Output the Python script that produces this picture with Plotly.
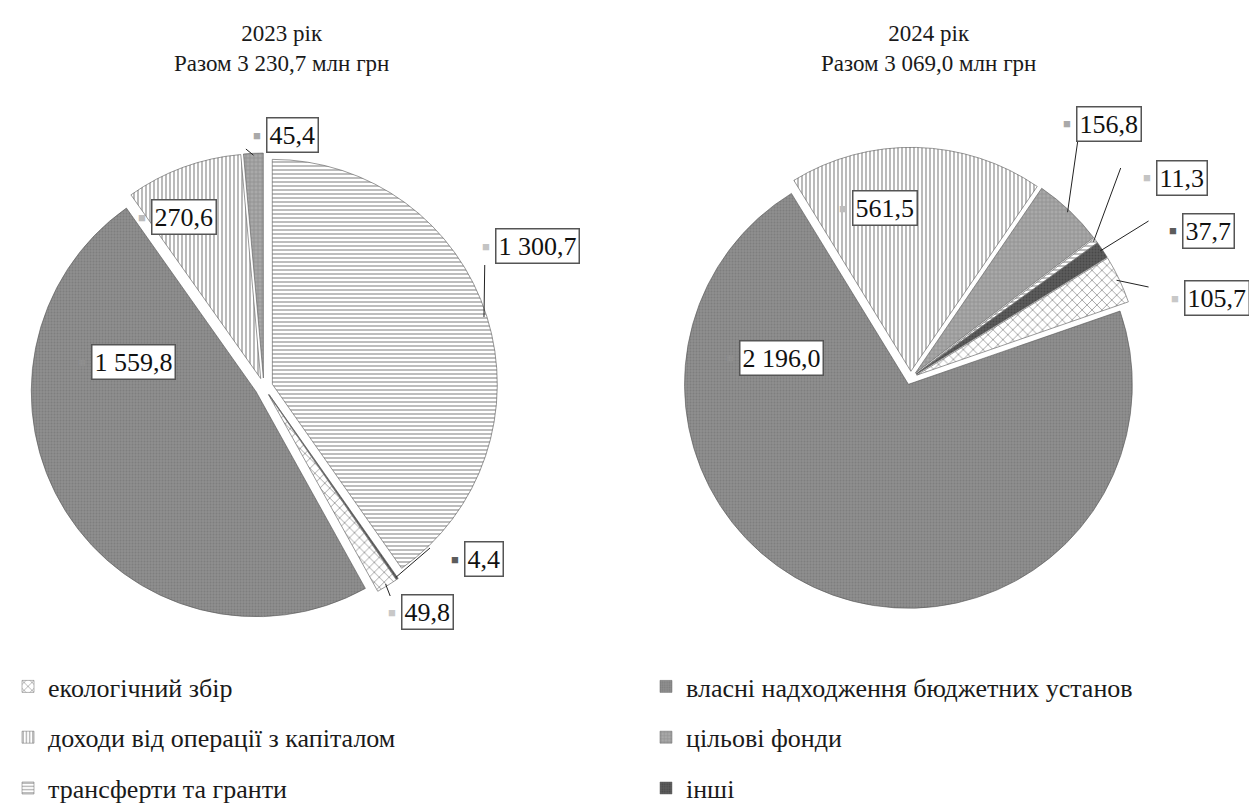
import math
import plotly.graph_objects as go

# data (млн грн)
categories = ["екологічний збір", "власні надходження бюджетних установ",
              "доходи від операції з капіталом", "цільові фонди",
              "трансферти та гранти", "інші"]
values_2023 = [49.8, 1559.8, 270.6, 45.4, 1300.7, 4.4]
values_2024 = [105.7, 2196.0, 561.5, 156.8, 11.3, 37.7]
years = ["2023", "2024"]

W, H = 1257, 805
FONT = "'Liberation Serif', 'Times New Roman', serif"

# fill styles per category: (bgcolor, pattern shape, fgcolor, size, solidity, icon colour)
styles = [
    ("white", "x", "#4a4a4a", 7, 0.25, "#c8c8c8"),
    ("#8e8e8e", ".", "#6e6e6e", 3, 0.3, "#8e8e8e"),
    ("white", "|", "#3a3a3a", 4, 0.35, "#bdbdbd"),
    ("#a9a9a9", "+", "#6a6a6a", 4, 0.3, "#a9a9a9"),
    ("white", "-", "#5a5a5a", 4, 0.4, "#c4c4c4"),
    ("#5c5c5c", ".", "#333333", 3, 0.3, "#5c5c5c"),
]

# pie geometry (pixels): centre, radius, start angle of first slice, pull
pies = [
    dict(cx=251, cy=379, r=226, rot=145.4, pull=0.04),
    dict(cx=901, cy=370, r=225, rot=58.5, pull=0.03),
]

# label boxes: left edge x, centre y, leader end point (or None)
label_boxes = [
    [(389, 604, (378, 588)), (77, 354, None), (138, 209, None),
     (253, 127, (233, 141)), (483, 238, (473, 257)), (452, 551, (418, 540))],
    [(1176, 290, (1140, 279)), (728, 350, None), (842, 200, None),
     (1067, 116, (1069, 132)), (1147, 170, (1112, 160)), (1174, 223, (1140, 213))],
]


def fmt(v):
    return f"{v:,.1f}".replace(",", " ").replace(".", ",")


def px(x):
    return x / W


def py(y):
    return 1 - y / H


fig = go.Figure()
annotations = []
shapes = []

for k, vals in enumerate([values_2023, values_2024]):
    g = pies[k]
    R = g["r"] * (1 + g["pull"])
    fig.add_trace(go.Pie(
        labels=categories, values=vals, sort=False, direction="clockwise",
        rotation=g["rot"], pull=[g["pull"]] * len(vals),
        textinfo="none", showlegend=False, hoverinfo="label+value",
        domain=dict(x=[px(g["cx"] - R), px(g["cx"] + R)],
                    y=[py(g["cy"] + R), py(g["cy"] - R)]),
        marker=dict(
            colors=[s[0] for s in styles],
            line=dict(color="#555555", width=0.6),
            pattern=dict(shape=[s[1] for s in styles],
                         fgcolor=[s[2] for s in styles],
                         bgcolor=[s[0] for s in styles],
                         size=[s[3] for s in styles],
                         solidity=[s[4] for s in styles],
                         fillmode="overlay"),
        ),
    ))

    total = sum(vals)
    annotations.append(dict(
        x=px(g["cx"] + 18), y=py(11), xref="paper", yref="paper",
        xanchor="center", yanchor="top", showarrow=False,
        text=f"{years[k]} рік<br>Разом {fmt(total)} млн грн",
        font=dict(family=FONT, size=23, color="#1a1a1a"),
    ))

    cum = 0
    for i, v in enumerate(vals):
        mid = g["rot"] + 360 * (cum + v / 2) / total
        cum += v
        bx, by, lead = label_boxes[k][i]
        annotations.append(dict(
            x=px(bx), y=py(by), xref="paper", yref="paper",
            xanchor="left", yanchor="middle", showarrow=False,
            text=fmt(v), bgcolor="white", bordercolor="#555555",
            borderwidth=1.5, borderpad=2,
            font=dict(family=FONT, size=26, color="#111111"),
        ))
        annotations.append(dict(
            x=px(bx - 3), y=py(by), xref="paper", yref="paper",
            xanchor="right", yanchor="middle", showarrow=False,
            text="■", font=dict(size=13, color=styles[i][5]),
        ))
        if lead is not None:
            a = math.radians(mid)
            rr = g["r"] * (1 + g["pull"]) - 3
            sx = g["cx"] + rr * math.sin(a)
            sy = g["cy"] - rr * math.cos(a)
            shapes.append(dict(type="line", xref="paper", yref="paper",
                               x0=px(sx), y0=py(sy), x1=px(lead[0]), y1=py(lead[1]),
                               line=dict(color="#222222", width=1)))

# legend entries: dummy bars carrying the same fills, two columns
for i, name in enumerate(categories):
    s = styles[i]
    fig.add_trace(go.Bar(
        x=[None], y=[None], name=name, legendgroup=name,
        legend="legend" if i % 2 == 0 else "legend2",
        marker=dict(color=s[0], line=dict(color="#666666", width=0.5),
                    pattern=dict(shape=s[1], fgcolor=s[2], bgcolor=s[0],
                                 size=s[3], solidity=s[4], fillmode="overlay")),
    ))

legend_style = dict(yanchor="top", y=py(655), xanchor="left",
                    traceorder="grouped", tracegroupgap=14,
                    bgcolor="rgba(0,0,0,0)",
                    font=dict(family=FONT, size=26, color="#1a1a1a"))

fig.update_layout(
    width=W, height=H,
    margin=dict(l=0, r=0, t=0, b=0),
    paper_bgcolor="white", plot_bgcolor="white",
    font=dict(family=FONT),
    xaxis=dict(visible=False), yaxis=dict(visible=False),
    legend=dict(x=px(-6), **legend_style),
    legend2=dict(x=px(635), **legend_style),
    annotations=annotations,
    shapes=shapes,
)

fig.write_html("out.html")
